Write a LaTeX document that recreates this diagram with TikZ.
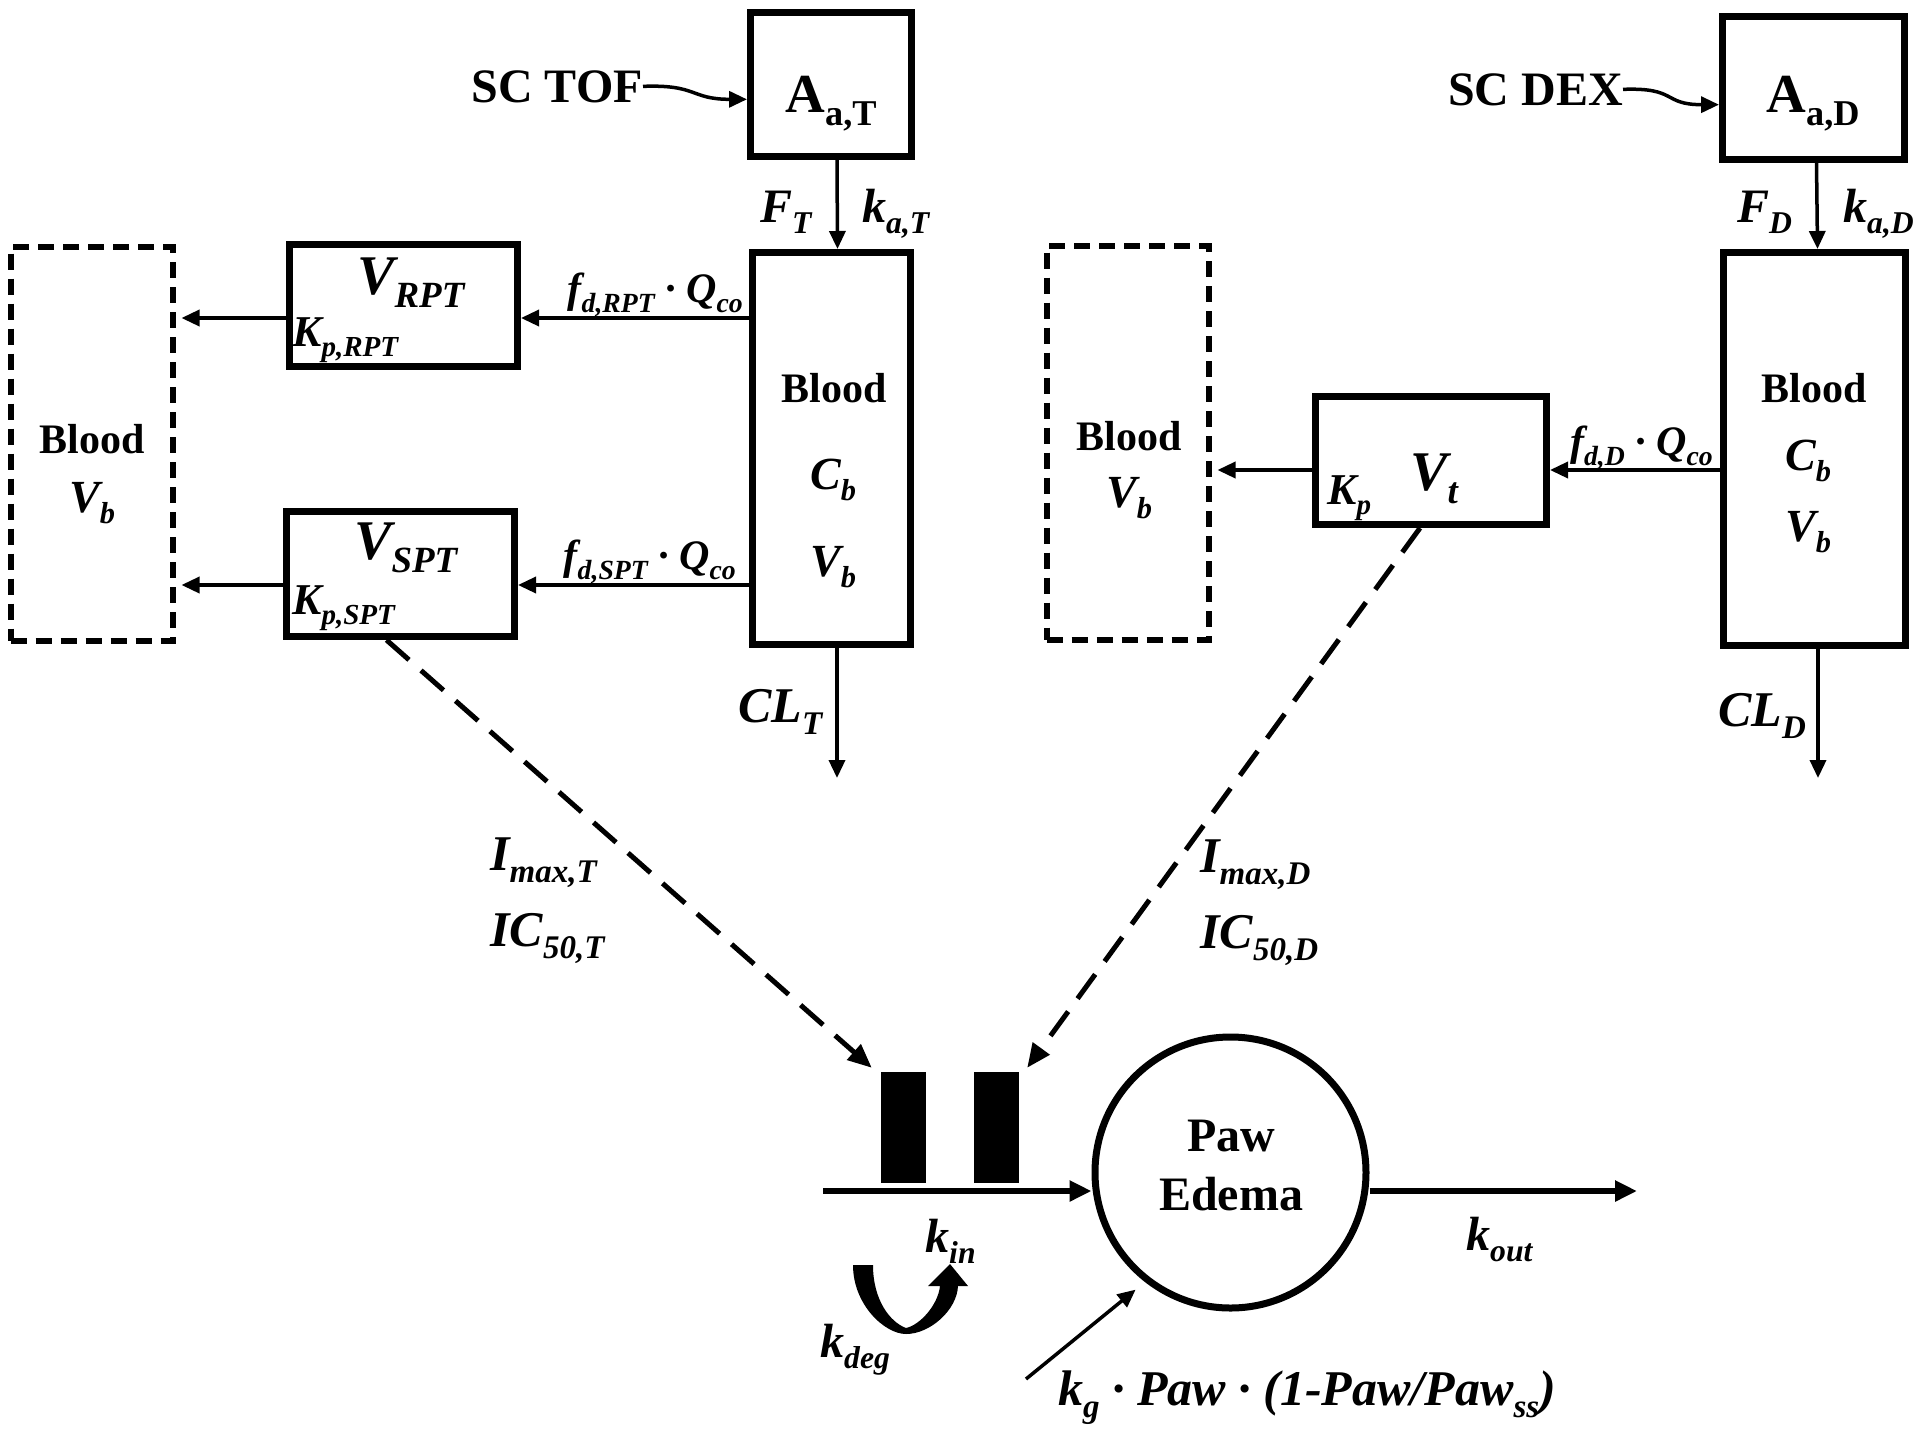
\documentclass[tikz,border=0pt]{standalone}
\usepackage{fontspec}
\setmainfont{Liberation Serif}
\usepackage{graphicx}
\usetikzlibrary{arrows.meta}
\newcommand\sbs[1]{\raisebox{-0.24em}{\scalebox{0.66}{#1}}}
\begin{document}
\begin{tikzpicture}[x=1pt,y=-1pt,
 box/.style={draw, line width=7pt, inner sep=0pt},
 dbox/.style={draw, line width=6pt, dash pattern=on 16pt off 9pt, inner sep=0pt},
 bt/.style={font=\fontsize{#1}{#1}\selectfont\bfseries, inner sep=0pt},
 lbl/.style={font=\fontsize{#1}{#1}\selectfont\bfseries\itshape, inner sep=0pt},
 arr/.style={line width=3.5pt, -{Triangle[length=18pt,width=16pt]}},
 arrk/.style={line width=6pt, -{Triangle[length=22pt,width=20pt]}},
 darr/.style={line width=5pt, dash pattern=on 30pt off 16pt, -{Triangle[length=24pt,width=20pt]}},
 bar/.style={fill=black, inner sep=0pt, minimum width=45pt, minimum height=111pt}
]
\fill[white] (0,0) rectangle (1920,1433);
\useasboundingbox (0,0) rectangle (1920,1433);

% ---------- boxes ----------
\node[box, minimum width=161pt, minimum height=144pt] (AaT) at (831,84.5) {};
\node[box, minimum width=158pt, minimum height=392pt] (BT) at (831.5,448.5) {};
\node[box, minimum width=228pt, minimum height=122pt] (VRPT) at (403.5,305.5) {};
\node[box, minimum width=228pt, minimum height=125pt] (VSPT) at (400.5,574) {};
\node[dbox, minimum width=162pt, minimum height=394pt] (DL) at (91.5,443.5) {};

\node[box, minimum width=182pt, minimum height=143pt] (AaD) at (1813.5,88) {};
\node[box, minimum width=182pt, minimum height=393pt] (BD) at (1814.5,449) {};
\node[box, minimum width=231pt, minimum height=128pt] (Vt) at (1431,460.5) {};
\node[dbox, minimum width=162pt, minimum height=394pt] (DR) at (1127.5,442.5) {};

\node[draw, circle, line width=7pt, minimum size=271pt, inner sep=0pt] (paw) at (1230.5,1172.5) {};
\node[bar] (bar1) at (903.5,1127.5) {};
\node[bar] (bar2) at (996.5,1127.5) {};

% ---------- texts ----------
\node[bt=48, anchor=base east] (sctof) at (643,102) {SC TOF};
\node[bt=48, anchor=base east] (scdex) at (1623,105) {SC DEX};
\node[bt=55, anchor=base] (aatxt) at (831,112) {A\sbs{a,T}};
\node[bt=55, anchor=base] (adtxt) at (1813,112) {A\sbs{a,D}};

\node[lbl=48, anchor=base west] (FT) at (760,222) {F\sbs{T}};
\node[lbl=48, anchor=base west] (kaT) at (862,222) {k\sbs{a,T}};
\node[lbl=48, anchor=base west] (FD) at (1737,222) {F\sbs{D}};
\node[lbl=48, anchor=base west] (kaD) at (1843,222) {k\sbs{a,D}};

\node[lbl=42, anchor=base east] (fRPT) at (743,302) {f\sbs{d,RPT} · Q\sbs{co}};
\node[lbl=42, anchor=base east] (fSPT) at (736,569) {f\sbs{d,SPT} · Q\sbs{co}};
\node[lbl=42, anchor=base east] (fD) at (1713,455) {f\sbs{d,D} · Q\sbs{co}};

\node[bt=42, anchor=base] (bTt) at (834,402) {Blood};
\node[lbl=46, anchor=base] (cTt) at (833,489) {C\sbs{b}};
\node[lbl=46, anchor=base] (vTt) at (833,576) {V\sbs{b}};

\node[bt=42, anchor=base] (bDt) at (1814,402) {Blood};
\node[lbl=46, anchor=base] (cDt) at (1808,470) {C\sbs{b}};
\node[lbl=46, anchor=base] (vDt) at (1808,541) {V\sbs{b}};

\node[bt=42, anchor=base] (bLt) at (92,453) {Blood};
\node[lbl=46, anchor=base] (vLt) at (92,512) {V\sbs{b}};
\node[bt=42, anchor=base] (bRt) at (1129,450) {Blood};
\node[lbl=46, anchor=base] (vRt) at (1129,507) {V\sbs{b}};

\node[lbl=56, anchor=base west] (vrpt) at (357,294) {V\sbs{RPT}};
\node[lbl=44, anchor=base west] (krpt) at (292,346) {K\sbs{p,RPT}};
\node[lbl=56, anchor=base west] (vspt) at (354,559) {V\sbs{SPT}};
\node[lbl=44, anchor=base west] (kspt) at (292,614) {K\sbs{p,SPT}};
\node[lbl=56, anchor=base west] (vtt) at (1410,490) {V\sbs{t}};
\node[lbl=44, anchor=base west] (kpt) at (1327,504) {K\sbs{p}};

\node[lbl=50, anchor=base west] (clT) at (738,722) {CL\sbs{T}};
\node[lbl=50, anchor=base west] (clD) at (1718,726) {CL\sbs{D}};

\node[lbl=50, anchor=base west] (imT) at (490,870) {I\sbs{max,T}};
\node[lbl=50, anchor=base west] (icT) at (490,946) {IC\sbs{50,T}};
\node[lbl=50, anchor=base west] (imD) at (1200,872) {I\sbs{max,D}};
\node[lbl=50, anchor=base west] (icD) at (1200,948) {IC\sbs{50,D}};

\node[bt=48, align=center] (pawt) at (1231,1166) {Paw\\[11pt]Edema};
\node[lbl=48, anchor=base west] (kin) at (925,1252) {k\sbs{in}};
\node[lbl=48, anchor=base west] (kdeg) at (820,1357) {k\sbs{deg}};
\node[lbl=48, anchor=base west] (kout) at (1466,1250) {k\sbs{out}};
\node[lbl=50, anchor=base west] (kgx) at (1058,1405) {k\sbs{g} · Paw · (1-Paw/Paw\sbs{ss})};

% ---------- connectors ----------
\coordinate (yR) at (0,318);
\coordinate (yS) at (0,585);
\coordinate (yV) at (0,470);
\coordinate (yK) at (0,1191);

\draw[arr] (sctof.east) .. controls +(55,-2) and +(-57,0) .. (AaT.190);
\draw[arr] (scdex.east) .. controls +(55,-2) and +(-57,0) .. (AaD.190);

\draw[arr] ([xshift=6pt]AaT.south) -- ([xshift=6pt]BT.north);
\draw[arr] ([xshift=3pt]AaD.south) -- ([xshift=3pt]BD.north);

\draw[arr] (BT.west |- yR) -- (VRPT.east |- yR);
\draw[arr, shorten >=6pt] (VRPT.west |- yR) -- (DL.east |- yR);
\draw[arr] (BT.west |- yS) -- (VSPT.east |- yS);
\draw[arr, shorten >=6pt] (VSPT.west |- yS) -- (DL.east |- yS);
\draw[arr] (BD.west |- yV) -- (Vt.east |- yV);
\draw[arr, shorten >=6pt] (Vt.west |- yV) -- (DR.east |- yV);

\coordinate (clTend) at (837,778);
\coordinate (clDend) at (1818,778);
\draw[arr] (BT.south -| clTend) -- (clTend);
\draw[arr] (BD.south -| clDend) -- (clDend);

\draw[darr] ([xshift=-14pt]VSPT.south) -- ([shift={(-9,-4)}]bar1.north west);
\draw[darr] ([xshift=-11pt]Vt.south) -- ([shift={(8,-4)}]bar2.north east);

\coordinate (kinstart) at (823,1191);
\coordinate (koutend) at (1637,1191);
\draw[arrk] (kinstart) -- (kinstart -| paw.west);
\draw[arrk] (koutend -| paw.east) -- (koutend);

\coordinate (kgs) at (1026,1379);
\draw[arr, shorten >=12pt] (kgs) -- (paw.232);

% k_deg turn-over arrow
\fill (853,1265) .. controls (853,1305) and (885,1334) .. (906,1334)
  .. controls (930,1334) and (957,1310) .. (958,1286)
  -- (968,1286) -- (950,1264) -- (928,1286) -- (940,1286)
  .. controls (938,1305) and (920,1325) .. (906,1328)
  .. controls (890,1322) and (873,1300) .. (873,1265) -- cycle;
\end{tikzpicture}
\end{document}
